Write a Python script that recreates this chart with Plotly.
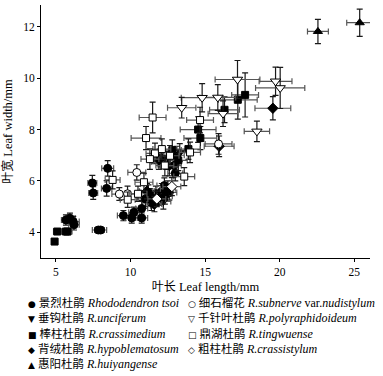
import plotly.graph_objects as go

# ---------------- data (leaf length, leaf width, errors) ----------------
tsoi_x = [7.44, 7.5, 8.47, 8.4, 5.67, 5.94, 6.16, 6.21, 7.84, 8.0, 9.52, 10.08, 10.23, 10.75, 10.75,
          11.0, 11.3, 11.5, 11.7, 11.9, 12.27, 12.1, 11.2, 12.0, 12.4, 13.1, 12.9, 13.0, 11.4, 12.6]
tsoi_y = [5.92, 5.53, 6.49, 5.71, 4.48, 4.55, 4.42, 4.29, 4.09, 4.09, 4.65, 4.56, 4.78, 4.56, 4.93,
          5.3, 5.4, 5.25, 5.5, 5.35, 5.82, 5.6, 5.55, 6.9, 6.8, 7.0, 6.6, 6.3, 5.15, 5.55]
tsoi_xe = [0.3, 0.3, 0.4, 0.35, 0.3, 0.35, 0.4, 0.35, 0.4, 0.4, 0.4, 0.4, 0.35, 0.4, 0.4,
           0.6, 0.6, 0.6, 0.6, 0.5, 0.5, 0.6, 0.5, 0.6, 0.6, 0.5, 0.5, 0.5, 0.6, 0.5]
tsoi_ye = [0.3, 0.25, 0.3, 0.3, 0.2, 0.2, 0.2, 0.2, 0.1, 0.1, 0.2, 0.2, 0.2, 0.2, 0.3,
           0.3, 0.3, 0.3, 0.3, 0.3, 0.3, 0.3, 0.3, 0.35, 0.35, 0.35, 0.3, 0.3, 0.3, 0.3]

subnerve_x = [10.42, 9.25, 15.9, 9.8]
subnerve_y = [6.33, 5.49, 7.44, 5.5]
subnerve_xe = [0.6, 0.5, 0.9, 0.5]
subnerve_ye = [0.3, 0.25, 0.4, 0.3]

unciferum_x = [12.6, 13.3, 11.9, 12.2]
unciferum_y = [6.55, 7.1, 6.75, 5.2]
unciferum_xe = [0.6, 0.6, 0.5, 0.5]
unciferum_ye = [0.35, 0.35, 0.3, 0.3]

polyraph_x = [17.17, 19.72, 20.03, 14.8, 15.85, 13.43, 16.2, 18.47]
polyraph_y = [9.95, 9.88, 9.62, 9.24, 9.25, 8.85, 8.62, 7.93]
polyraph_xe = [1.5, 1.1, 1.65, 1.4, 1.2, 0.95, 1.0, 0.85]
polyraph_ye = [0.74, 0.55, 0.8, 0.55, 0.5, 0.4, 0.5, 0.4]

crassimed_x = [17.68, 17.19, 16.3, 14.53, 14.68, 13.88, 4.91, 5.09, 5.67, 5.78, 12.8, 13.2]
crassimed_y = [9.35, 9.16, 8.77, 8.0, 7.67, 7.24, 3.64, 4.03, 4.03, 4.03, 7.2, 6.8]
crassimed_xe = [0.9, 1.3, 1.0, 1.2, 1.1, 0.8, 0.2, 0.25, 0.3, 0.3, 0.6, 0.6]
crassimed_ye = [0.86, 0.75, 0.5, 0.5, 0.45, 0.4, 0.1, 0.1, 0.1, 0.1, 0.4, 0.4]

tingwu_x = [11.48, 11.04, 14.66, 8.8, 11.64, 12.65, 13.99, 13.6, 9.81, 10.9, 12.1, 11.3, 12.3, 10.5]
tingwu_y = [8.47, 7.67, 8.37, 6.04, 7.07, 6.98, 7.11, 6.17, 5.27, 5.95, 7.24, 6.85, 6.6, 5.5]
tingwu_xe = [0.9, 1.0, 0.9, 0.5, 0.6, 0.6, 0.7, 0.7, 0.5, 0.6, 0.6, 0.6, 0.6, 0.6]
tingwu_ye = [0.6, 0.45, 0.5, 0.35, 0.4, 0.4, 0.4, 0.35, 0.3, 0.35, 0.4, 0.4, 0.4, 0.3]

hypobl_x = [19.54, 15.94, 11.6, 12.3, 11.1, 12.5]
hypobl_y = [8.83, 7.35, 5.1, 5.4, 5.6, 5.7]
hypobl_xe = [1.2, 1.0, 0.5, 0.5, 0.5, 0.5]
hypobl_ye = [0.45, 0.4, 0.3, 0.3, 0.3, 0.3]

crassisty_x = [11.76, 12.77]
crassisty_y = [5.3, 5.78]
crassisty_xe = [0.6, 0.6]
crassisty_ye = [0.3, 0.35]

huiyang_x = [22.56, 25.36]
huiyang_y = [11.82, 12.16]
huiyang_xe = [0.7, 0.87]
huiyang_ye = [0.47, 0.53]

x_ticks = [5, 10, 15, 20, 25]
y_ticks = [4, 6, 8, 10, 12]

legend_symbols = ["●", "○", "▼", "▽", "■", "□", "◆", "◇", "▲"]
legend_cn = ["景烈杜鹃", "细石榴花", "垂钩杜鹃", "千针叶杜鹃", "棒柱杜鹃", "鼎湖杜鹃", "背绒杜鹃", "粗柱杜鹃", "惠阳杜鹃"]
legend_latin = ["<i>Rhododendron tsoi</i>", "<i>R.subnerve</i> var.<i>nudistylum</i>", "<i>R.unciferum</i>",
                "<i>R.polyraphidoideum</i>", "<i>R.crassimedium</i>", "<i>R.tingwuense</i>",
                "<i>R.hypoblematosum</i>", "<i>R.crassistylum</i>", "<i>R.huiyangense</i>"]

# ---------------- figure ----------------
SERIF = "Liberation Serif, Times New Roman, Noto Sans CJK SC, serif"
fig = go.Figure()

def add(xs, ys, xe, ye, symbol, fill, size):
    fig.add_trace(go.Scatter(
        x=xs, y=ys, mode="markers",
        marker=dict(symbol=symbol, size=size, color=fill, line=dict(color="black", width=1)),
        error_x=dict(type="data", array=xe, visible=True, color="#555555", thickness=1.2, width=3),
        error_y=dict(type="data", array=ye, visible=True, color="#1a1a1a", thickness=1.2, width=3),
        showlegend=False, hoverinfo="skip"))

add(tsoi_x, tsoi_y, tsoi_xe, tsoi_ye, "circle", "black", 8)
add(unciferum_x, unciferum_y, unciferum_xe, unciferum_ye, "triangle-down", "black", 8)
add(crassimed_x, crassimed_y, crassimed_xe, crassimed_ye, "square", "black", 7)
add(hypobl_x, hypobl_y, hypobl_xe, hypobl_ye, "diamond", "black", 8)
add(huiyang_x, huiyang_y, huiyang_xe, huiyang_ye, "triangle-up", "black", 8)
add(subnerve_x, subnerve_y, subnerve_xe, subnerve_ye, "circle", "white", 8)
add(polyraph_x, polyraph_y, polyraph_xe, polyraph_ye, "triangle-down", "white", 9)
add(tingwu_x, tingwu_y, tingwu_xe, tingwu_ye, "square", "white", 7)
add(crassisty_x, crassisty_y, crassisty_xe, crassisty_ye, "diamond", "white", 8)

# legend as text rows (two columns)
row_py = [302.7, 318.1, 333.5, 348.9, 364.3]
plot_top, plot_bottom, plot_left, plot_right = 5, 258, 41, 370
for i, (sym, cn, la) in enumerate(zip(legend_symbols, legend_cn, legend_latin)):
    row, col = divmod(i, 2)
    px = 26 if col == 0 else 186
    yy = (plot_bottom - row_py[row]) / (plot_bottom - plot_top)
    xx = (px - plot_left) / (plot_right - plot_left)
    txt = (f"<span style='font-family:DejaVu Sans;font-size:9px'>{sym}</span> "
           f"<span style='font-size:11.5px'>{cn}</span> {la}")
    fig.add_annotation(x=xx, y=yy, xref="paper", yref="paper", text=txt, showarrow=False,
                       xanchor="left", yanchor="middle", align="left",
                       font=dict(family=SERIF, size=12, color="black"))

fig.update_layout(
    width=383, height=376,
    margin=dict(l=41, r=13, t=5, b=118),
    paper_bgcolor="white", plot_bgcolor="white",
    font=dict(family=SERIF, size=11, color="black"),
    xaxis=dict(range=[4.0, 26.05], tickvals=x_ticks, showgrid=False, zeroline=False,
               showline=True, linecolor="black", linewidth=1, ticks="outside", ticklen=3,
               tickcolor="black", tickfont=dict(size=11.5),
               title=dict(text="<span style='font-size:12px'>叶长</span> Leaf length/mm",
                          font=dict(size=12.5), standoff=5)),
    yaxis=dict(range=[3.0, 12.85], tickvals=y_ticks, showgrid=False, zeroline=False,
               showline=True, linecolor="black", linewidth=1, ticks="outside", ticklen=3,
               tickcolor="black", tickfont=dict(size=11.5),
               title=dict(text="<span style='font-size:12px'>叶宽</span> Leaf width/mm",
                          font=dict(size=12.5), standoff=7)),
)

fig.write_html("out.html", config={"displayModeBar": False},
               post_script="document.body.style.margin='0';")
